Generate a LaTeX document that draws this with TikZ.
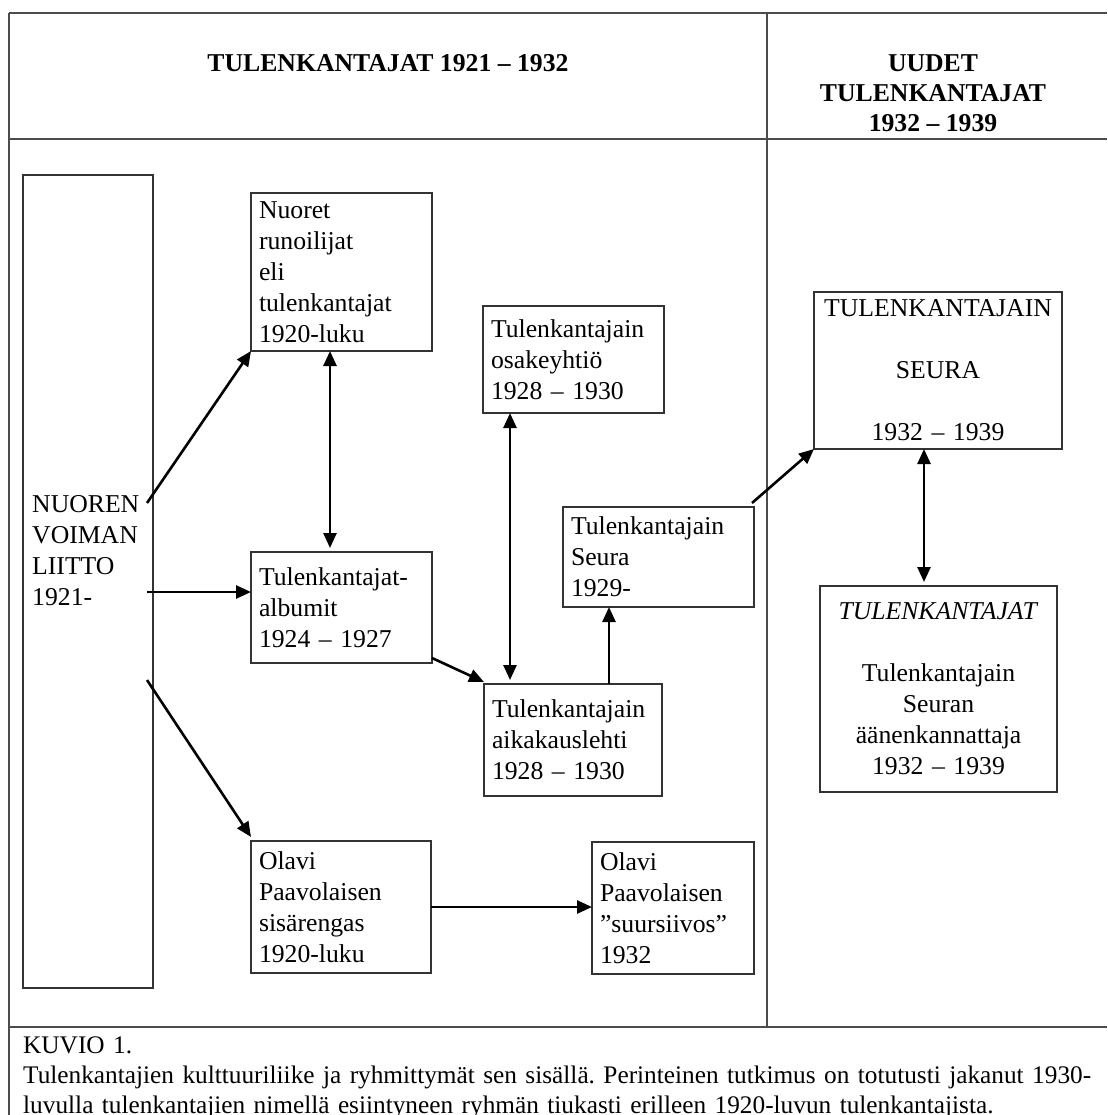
\documentclass[tikz,border=0pt]{standalone}
\usepackage{fontspec}
\setmainfont{Liberation Serif}
\usetikzlibrary{arrows.meta}
\frenchspacing

\begin{document}
\begin{tikzpicture}[x=1pt, y=-1pt, >={Triangle[length=15pt, width=13pt]},
    every node/.style = {font=\fontsize{25.7}{31}\selectfont},
    box/.style = {draw=black!80, line width=1.6pt, outer sep=0pt, inner xsep=8pt, inner ysep=0pt, anchor=north west, align=left},
    mid/.style = {box, inner xsep=4pt, align=center},
    frame/.style = {draw=black!70, line width=2pt},
    link/.style = {line width=2.6pt, ->}]
    \useasboundingbox (0,0) rectangle (1107,1115);

    \draw[frame] (9,13) -- (1107,13);
    \draw[frame] (9,13) -- (9,1115);
    \draw[frame] (9,139) -- (1107,139);
    \draw[frame] (9,1027) -- (1107,1027);
    \draw[frame] (767,13) -- (767,1027);

    \node[font=\bfseries\fontsize{25.7}{30}\selectfont, anchor=base] (Head1) at (388,72) {TULENKANTAJAT 1921 – 1932};
    \node[font=\bfseries\fontsize{25.7}{30}\selectfont, align=center] (Head2) at (933,93) {UUDET\\TULENKANTAJAT\\1932 – 1939};

    \node[box, minimum width=130pt, minimum height=813pt] (NVL) at (23,175) {};
    \node[anchor=north west, align=left, inner sep=0pt] (NVLtext) at (32,495) {NUOREN\\VOIMAN\\LIITTO\\1921-};

    \node[box, text width=165pt, minimum height=158pt] (Nuoret) at (251,193) {Nuoret\\runoilijat\\eli\\tulenkantajat\\1920-luku};
    \node[box, text width=165pt, minimum height=111pt] (Albumit) at (251,552) {Tulenkantajat-\\albumit\\1924 – 1927};
    \node[box, text width=165pt, minimum height=107pt] (Osake) at (483,306) {Tulenkantajain\\osakeyhtiö\\1928 – 1930};
    \node[box, text width=175pt, minimum height=100pt] (Seura29) at (563,507) {Tulenkantajain\\Seura\\1929-};
    \node[box, text width=162pt, minimum height=112pt] (Aika) at (484,684) {Tulenkantajain\\aikakauslehti\\1928 – 1930};
    \node[box, text width=164pt, minimum height=132pt] (Olavi) at (251,841) {Olavi\\Paavolaisen\\sisärengas\\1920-luku};
    \node[box, text width=146pt, minimum height=132pt] (Siivous) at (592,842) {Olavi\\Paavolaisen\\”suursiivos”\\1932};
    \node[mid, text width=240pt, minimum height=157pt] (Seura) at (814,292) {TULENKANTAJAIN\\[31pt]SEURA\\[31pt]1932 – 1939};
    \node[mid, text width=229pt, minimum height=206pt] (Lehti) at (820,586) {\textit{TULENKANTAJAT}\\[31pt]Tulenkantajain\\Seuran\\äänenkannattaja\\1932 – 1939};

    \node[anchor=base west, text width=1100pt, align=left, inner sep=0pt, font=\fontsize{25.3}{30}\selectfont] (Caption) at (23,1053) {KUVIO 1.\\Tulenkantajien kulttuuriliike ja ryhmittymät sen sisällä. Perinteinen tutkimus on totutusti jakanut 1930-\\luvulla tulenkantajien nimellä esiintyneen ryhmän tiukasti erilleen 1920-luvun tulenkantajista.};

    \coordinate (N1) at (147,503);
    \coordinate (N2) at (147,592);
    \coordinate (N3) at (147,680);
    \coordinate (A1) at (432,658);

    \draw[link] (N1) -- (Nuoret.south west);
    \draw[link] (N2) -- (N2 -| Albumit.west);
    \draw[link] (N3) -- ([yshift=4pt]Olavi.north west);
    \draw[link, <->, shorten >=4pt] ([xshift=-11.5pt]Nuoret.south) -- ([xshift=-11.5pt]Albumit.north);
    \draw[link] (A1) -- ([yshift=2pt]Aika.north west);
    \draw[link, <->, shorten >=4pt] ([xshift=-63.5pt]Osake.south) -- ([xshift=-63pt]Aika.north);
    \draw[link] ([xshift=36pt]Aika.north) -- ([xshift=-49.5pt]Seura29.south);
    \draw[link] ([xshift=-2pt, yshift=4pt]Seura29.north east) -- (Seura.south west);
    \draw[link, <->, shorten >=4pt] ([xshift=-14pt]Seura.south) -- ([xshift=-14.5pt]Lehti.north);
    \draw[link] (Olavi.east) -- (Olavi.east -| Siivous.west);
\end{tikzpicture}
\end{document}
